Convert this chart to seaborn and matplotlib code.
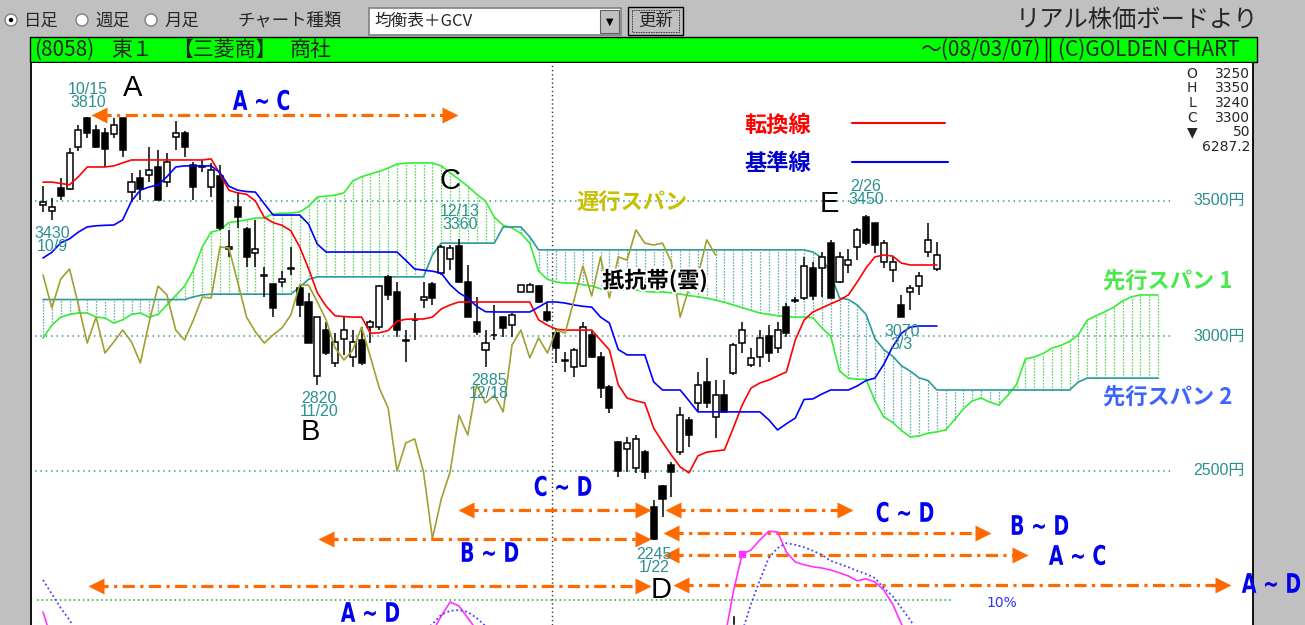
import numpy as np
import pandas as pd
import matplotlib
matplotlib.use("Agg")
import matplotlib.pyplot as plt
import seaborn as sns
import matplotlib.transforms as mtransforms
from matplotlib.patches import Rectangle, Circle, PathPatch
from matplotlib.textpath import TextPath
from matplotlib.font_manager import FontProperties
from matplotlib import font_manager
import matplotlib.patheffects as pe

# ---- daily candles 2007/10/05 .. 2008/03/07 (8058 三菱商事), 102 days ----
open_ = [3485, 3463, 3548, 3544, 3700, 3807, 3763, 3752, 3748, 3807,
         3533, 3585, 3596, 3626, 3570, 3737, 3752, 3633, 3630, 3552,
         3593, 3322, 3478, 3396, 3307, 3222, 3193, 3200, 3248, 3178,
         3126, 2852, 3022, 2900, 2989, 2922, 2985, 3033, 3033, 3219,
         3163, 2983, 3058, 3133, 3193, 3233, 3285, 3333, 3200, 3052,
         2948, 3002, 3070, 3041, 3163, 3163, 3185, 3089, 3011, 2909,
         2885, 2889, 3004, 2922, 2811, 2607, 2581, 2511, 2570, 2367,
         2444, 2522, 2570, 2689, 2752, 2830, 2700, 2781, 2863, 2974,
         2893, 2922, 3000, 2956, 3107, 3131, 3141, 3252, 3252, 3344,
         3200, 3263, 3330, 3441, 3419, 3274, 3244, 3115, 3163, 3185,
         3311, 3250]
high = [3556, 3511, 3585, 3696, 3781, 3810, 3781, 3770, 3807, 3800,
        3604, 3615, 3700, 3689, 3678, 3796, 3760, 3644, 3652, 3641,
        3633, 3393, 3533, 3404, 3430, 3256, 3193, 3241, 3330, 3189,
        3159, 3070, 3052, 3011, 3070, 3022, 3033, 3059, 3189, 3226,
        3200, 3022, 3085, 3200, 3200, 3337, 3337, 3360, 3263, 3144,
        3022, 3115, 3070, 3085, 3189, 3196, 3189, 3122, 3030, 2941,
        2956, 3052, 3022, 2941, 2819, 2611, 2626, 2633, 2578, 2393,
        2448, 2533, 2737, 2700, 2867, 2919, 2837, 2837, 2974, 3052,
        2956, 3022, 3041, 3052, 3122, 3144, 3293, 3274, 3311, 3356,
        3311, 3322, 3400, 3450, 3419, 3356, 3293, 3152, 3189, 3237,
        3419, 3350]
low = [3459, 3430, 3504, 3541, 3685, 3733, 3696, 3626, 3733, 3663,
       3496, 3504, 3570, 3504, 3552, 3689, 3663, 3504, 3607, 3515,
       3393, 3293, 3400, 3256, 3256, 3144, 3070, 3181, 3226, 3070,
       2974, 2820, 2930, 2885, 2930, 2885, 2893, 2974, 3022, 3133,
       2996, 2904, 2985, 3104, 3115, 3226, 3244, 3196, 3070, 3004,
       2885, 2985, 2996, 2996, 3163, 3163, 3122, 3052, 2900, 2867,
       2848, 2885, 2919, 2770, 2715, 2478, 2496, 2493, 2470, 2245,
       2330, 2404, 2559, 2589, 2719, 2733, 2622, 2719, 2856, 2937,
       2885, 2885, 2904, 2937, 2996, 3122, 3133, 3133, 3144, 3141,
       3196, 3233, 3281, 3337, 3307, 3252, 3200, 3070, 3096, 3152,
       3293, 3240]
close = [3496, 3478, 3519, 3678, 3763, 3752, 3700, 3693, 3781, 3689,
         3570, 3544, 3615, 3504, 3644, 3752, 3700, 3552, 3626, 3615,
         3400, 3330, 3441, 3293, 3322, 3226, 3104, 3211, 3248, 3115,
         2974, 3070, 2937, 2978, 3022, 2978, 2900, 3052, 3185, 3152,
         3022, 2985, 3060, 3144, 3141, 3330, 3326, 3200, 3070, 3015,
         2974, 3004, 3030, 3078, 3189, 3189, 3126, 3059, 2956, 2911,
         2948, 3033, 2922, 2807, 2733, 2500, 2604, 2619, 2496, 2250,
         2396, 2496, 2707, 2633, 2819, 2752, 2781, 2719, 2967, 3022,
         2919, 2993, 2937, 3022, 3011, 3133, 3259, 3148, 3293, 3141,
         3293, 3281, 3393, 3344, 3337, 3344, 3274, 3070, 3178, 3222,
         3356, 3300]

# 転換線 / 基準線 (same 102 days)
tenkan = [3570, 3570, 3565, 3560, 3590, 3626, 3626, 3626, 3630, 3641,
          3652, 3652, 3652, 3652, 3652, 3652, 3652, 3652, 3652, 3656,
          3600, 3540, 3530, 3525, 3500, 3440, 3420, 3410, 3390, 3330,
          3250, 3160, 3110, 3075, 3072, 3070, 3070, 3010, 3012, 3020,
          3055, 3062, 3063, 3063, 3070, 3100, 3115, 3126, 3126, 3126,
          3126, 3126, 3126, 3126, 3126, 3126, 3060, 3040, 3025, 3022,
          3022, 3022, 3022, 2985, 2948, 2819, 2770, 2760, 2752, 2659,
          2607, 2559, 2515, 2493, 2556, 2570, 2574, 2578, 2659, 2744,
          2807, 2826, 2837, 2852, 2867, 2985, 3059, 3089, 3104, 3119,
          3133, 3152, 3200, 3252, 3293, 3300, 3296, 3270, 3263, 3263,
          3263, 3263]
kijun = [3289, 3310, 3345, 3360, 3385, 3404, 3408, 3410, 3411, 3430,
         3500, 3540, 3552, 3559, 3590, 3626, 3630, 3630, 3630, 3630,
         3605, 3555, 3540, 3535, 3533, 3490, 3448, 3448, 3448, 3448,
         3415, 3340, 3311, 3311, 3311, 3311, 3311, 3311, 3311, 3311,
         3311, 3280, 3248, 3244, 3240, 3233, 3190, 3160, 3140, 3110,
         3090, 3089, 3089, 3089, 3089, 3089, 3107, 3126, 3126, 3122,
         3115, 3110, 3107, 3070, 3048, 2950, 2930, 2930, 2930, 2830,
         2800, 2800, 2800, 2760, 2719, 2719, 2719, 2719, 2719, 2719,
         2719, 2719, 2690, 2652, 2675, 2696, 2765, 2767, 2785, 2800,
         2800, 2800, 2815, 2835, 2844, 2895, 2960, 3010, 3033, 3037,
         3037, 3037]

# 先行スパン 1 / 2, already placed 25 days ahead (127 positions)
senkou_a = [2993, 3040, 3070, 3080, 3085, 3085, 3070, 3067, 3048, 3060,
            3080, 3085, 3070, 3080, 3115, 3150, 3185, 3244, 3330, 3385,
            3393, 3420, 3425, 3430, 3437, 3437, 3452, 3455, 3455, 3459,
            3480, 3515, 3518, 3522, 3530, 3574, 3590, 3600, 3610, 3622,
            3637, 3640, 3641, 3641, 3641, 3630, 3605, 3580, 3555, 3525,
            3500, 3440, 3410, 3400, 3380, 3344, 3240, 3210, 3200, 3196,
            3196, 3190, 3185, 3175, 3170, 3170, 3170, 3170, 3165, 3163,
            3163, 3160, 3155, 3150, 3145, 3140, 3133, 3125, 3115, 3105,
            3095, 3085, 3080, 3075, 3072, 3070, 3070, 3068, 3030, 3000,
            2870, 2844, 2840, 2840, 2760, 2700, 2680, 2650, 2626, 2630,
            2640, 2645, 2652, 2690, 2730, 2760, 2770, 2755, 2744, 2780,
            2820, 2915, 2922, 2935, 2955, 2965, 2980, 3005, 3059, 3075,
            3090, 3107, 3130, 3145, 3152, 3152, 3152]
senkou_b = [3135, 3135, 3135, 3135, 3135, 3135, 3135, 3135, 3135, 3135,
            3135, 3135, 3135, 3135, 3135, 3135, 3135, 3145, 3152, 3155,
            3155, 3155, 3155, 3155, 3155, 3155, 3155, 3155, 3155, 3181,
            3210, 3219, 3219, 3219, 3219, 3219, 3219, 3219, 3219, 3219,
            3219, 3219, 3219, 3219, 3300, 3344, 3344, 3344, 3344, 3344,
            3344, 3344, 3404, 3404, 3404, 3367, 3319, 3319, 3319, 3319,
            3319, 3319, 3319, 3319, 3319, 3319, 3319, 3319, 3319, 3319,
            3319, 3319, 3319, 3319, 3319, 3319, 3319, 3319, 3319, 3319,
            3319, 3319, 3319, 3319, 3319, 3319, 3319, 3311, 3290, 3230,
            3141, 3135, 3115, 3080, 2990, 2950, 2925, 2890, 2870, 2845,
            2835, 2800, 2800, 2800, 2800, 2800, 2800, 2800, 2800, 2800,
            2800, 2800, 2800, 2800, 2800, 2800, 2800, 2830, 2844, 2844,
            2844, 2844, 2844, 2844, 2844, 2844, 2844]
lag = 25  # 遅行スパン shift

# GCV panel (only the parts that rise into view)
gcv_idx = [0, 1, 43, 44, 45, 46, 47, 48, 49, 50,
           76, 77, 78, 79, 80, 81, 82, 83, 84, 85, 86, 87, 88, 89, 90, 91,
           92, 93, 94, 95, 96, 97, 98]
gcv_val = [7, 0, -2, 2, 6, 9.5, 8.5, 5.5, 2.5, -2,
           -10, 0, 12, 21.5, 22.5, 25, 27.2, 27, 22, 19.5, 18.8, 18.3, 18,
           17.5, 16.8, 16, 14.8, 15.3, 14.5, 12.5, 9, 4, -1]
gcv_ma_idx = [0, 1, 2, 3, 4, 5, 42, 43, 44, 45, 46, 47, 48, 49, 50, 51,
              79, 80, 81, 82, 83, 84, 85, 86, 87, 88, 89, 90, 91, 92, 93,
              94, 95, 96, 97, 98, 99]
gcv_ma_val = [15, 11.5, 8, 5, 1, -3, -2, 2, 4, 6.3, 7.3, 7.5, 7, 5.5,
              3.5, 0, 2, 9, 15, 20.5, 23, 24.2, 23.8, 23.2, 22.3, 21.3,
              19.8, 19, 18.2, 17.3, 16.5, 15.5, 13, 11, 8, 5, 1]
gcv_mark_idx = 79
gcv_bar_idx, gcv_bar_val = 78, 6.3

# turning points used for the time-theory arrows
pts = {'A': 5, 'B': 31, 'C': 47, 'D': 69, 'E': 93}
peak_labels = [(5, '10/15', 3810), (1, '10/9', 3430), (31, '11/20', 2820),
               (47, '12/13', 3360), (50, '12/18', 2885), (69, '1/22', 2245),
               (93, '2/26', 3450), (97, '3/3', 3070)]
ohlc_board = [('O', '3250'), ('H', '3350'), ('L', '3240'), ('C', '3300'),
              ('▼', '50')]
volume_txt = '6287.2'

# ---------------- layout ----------------
W, H = 1305, 625
X0, DX = 43.0, 8.85        # pixel x of day 0, pixels per day
Y_REF, PPY = 201.0, 0.27   # pixel y of 3500 yen, pixels per yen

def price_at(ypx):
    return 3500 - (ypx - Y_REF) / PPY

def day_at(xpx):
    return (xpx - X0) / DX

sns.set_theme(style='white')
plt.rcParams['font.family'] = ['DejaVu Sans', 'Noto Sans CJK JP']
names = {f.name for f in font_manager.fontManager.ttflist}
LAB = 'Liberation Sans' if 'Liberation Sans' in names else 'DejaVu Sans'
JP = ['Noto Sans CJK JP', 'DejaVu Sans']

fig = plt.figure(figsize=(W / 100, H / 100), dpi=100)
fig.patch.set_facecolor('#c0c0c0')

ui = fig.add_axes([0, 0, 1, 1], zorder=0)
ui.set_xlim(0, W); ui.set_ylim(H, 0); ui.axis('off')

rect = [31 / W, 0, (1253 - 31) / W, (H - 63) / H]
ax = fig.add_axes(rect, zorder=1)
ax.set_xlim(day_at(31), day_at(1253))
ax.set_ylim(price_at(H), price_at(63))
ax.set_facecolor('white')
ax.set_xticks([]); ax.set_yticks([])
for s in ('top', 'bottom'):
    ax.spines[s].set_visible(False)
for s in ('left', 'right'):
    ax.spines[s].set_color('black'); ax.spines[s].set_linewidth(1.3)

# ---- toolbar ----
ui.add_patch(Rectangle((369, 8), 252, 27, facecolor='white', edgecolor='#808080', lw=1.2))
ui.add_patch(Rectangle((600, 10), 19, 23, facecolor='#c0c0c0', edgecolor='#606060', lw=0.8))
ui.text(609.5, 22, '▼', fontsize=7, ha='center', va='center', color='black')
ui.text(374, 21, '均衡表＋GCV', fontsize=12, family=JP, va='center')
ui.add_patch(Rectangle((628, 7), 55, 28, facecolor='#c0c0c0', edgecolor='black', lw=1))
ui.add_patch(Rectangle((632, 10), 47, 22, facecolor='none', edgecolor='black', lw=0.6, ls=(0, (1, 1))))
ui.text(655.5, 21, '更新', fontsize=12.5, family=JP, ha='center', va='center')
for cx, lab, on in [(11, '日足', True), (82, '週足', False), (151, '月足', False)]:
    ui.add_patch(Circle((cx, 20), 6, facecolor='white', edgecolor='#808080', lw=1))
    if on:
        ui.add_patch(Circle((cx, 20), 2.2, facecolor='black', edgecolor='none'))
    ui.text(cx + 13, 20.5, lab, fontsize=12.5, family=JP, va='center')
ui.text(237, 20.5, 'チャート種類', fontsize=12.5, family=JP, va='center')
ui.text(1258, 20, 'リアル株価ボードより', fontsize=17.5, family=JP, ha='right', va='center')

# ---- green header ----
ui.add_patch(Rectangle((30, 37), 1227, 25, facecolor='#00ff00', edgecolor='black', lw=1))
for x_l, s in [(34, '(8058)'), (111, '東１'), (172, '【三菱商】'), (290, '商社')]:
    ui.text(x_l, 50, s, fontsize=15, family=JP, va='center')
ui.text(1041, 50, '～(08/03/07)', fontsize=15, family=JP, va='center', ha='right')
ui.plot([1046, 1046], [37, 62], color='black', lw=1)
ui.plot([1050, 1050], [37, 62], color='black', lw=1)
ui.text(1058, 50, '(C)GOLDEN CHART', fontsize=15, family=JP, va='center')

# ---- grid ----
grid_teal = '#3a9a9a'
for p in (3500, 3000, 2500):
    ax.plot([day_at(35), day_at(1170)], [p, p], color=grid_teal, lw=1.1, ls=(0, (1, 2.5)), zorder=1)
ax.axvline(57.5, color='#333333', lw=1, ls=(0, (1, 2)), zorder=1)

# ---- cloud ----
cloud = pd.DataFrame({'i': np.arange(len(senkou_a)), 'a': senkou_a, 'b': senkou_b})
up = cloud['a'] >= cloud['b']
lo = cloud[['a', 'b']].min(axis=1)
hi = cloud[['a', 'b']].max(axis=1)
ax.vlines(cloud['i'][up], lo[up], hi[up], colors='#22cc22', lw=0.9, ls=(0, (1, 1.4)), zorder=2)
ax.vlines(cloud['i'][~up], lo[~up], hi[~up], colors='#2a9a9a', lw=0.9, ls=(0, (1, 1.4)), zorder=2)
sns.lineplot(data=cloud, x='i', y='a', color='#33ee33', lw=1.2, ax=ax, zorder=3, estimator=None)
sns.lineplot(data=cloud, x='i', y='b', color='#2a9a9a', lw=1.2, ax=ax, zorder=3, estimator=None)

# ---- candles ----
df = pd.DataFrame({'i': np.arange(len(close)), 'o': open_, 'h': high, 'l': low, 'c': close,
                   'tenkan': tenkan, 'kijun': kijun})
df['bot'] = df[['o', 'c']].min(axis=1)
df['top'] = df[['o', 'c']].max(axis=1)
df['body'] = (df['top'] - df['bot']).clip(lower=3)
white = df['c'] >= df['o']
ax.vlines(df['i'], df['l'], df['h'], color='black', lw=1.1, zorder=5)
ax.bar(df['i'][white], df['body'][white], bottom=df['bot'][white], width=0.68,
       facecolor='white', edgecolor='black', lw=1.1, zorder=6)
ax.bar(df['i'][~white], df['body'][~white], bottom=df['bot'][~white], width=0.68,
       facecolor='black', edgecolor='black', lw=1.1, zorder=6)

# ---- 転換線 / 基準線 / 遅行スパン ----
sns.lineplot(data=df, x='i', y='tenkan', color='#ff0000', lw=1.2, ax=ax, zorder=7, estimator=None)
sns.lineplot(data=df, x='i', y='kijun', color='#0000ff', lw=1.2, ax=ax, zorder=7, estimator=None)
chikou = pd.DataFrame({'i': df['i'][:-lag].values, 'v': df['c'][lag:].values})
sns.lineplot(data=chikou, x='i', y='v', color='#a0a030', lw=1.2, ax=ax, zorder=7, estimator=None)
ax.set_xlabel(''); ax.set_ylabel('')

# ---- GCV panel ----
gx = fig.add_axes(rect, zorder=2)
gx.set_xlim(ax.get_xlim())
gx.set_ylim(10 - (H - 600) / 4, 10 + (600 - 63) / 4)
gx.axis('off')
gx.plot([day_at(37), day_at(953)], [10, 10], color='#22aa22', lw=1.1, ls=(0, (1, 2)))
gcv = pd.DataFrame({'i': gcv_idx, 'v': gcv_val})
gma = pd.DataFrame({'i': gcv_ma_idx, 'v': gcv_ma_val})
sns.lineplot(data=gcv, x='i', y='v', color='#ff33ff', lw=1.2, ax=gx, estimator=None, sort=False)
sns.lineplot(data=gma, x='i', y='v', color='#4040ff', lw=1.3, ls=(0, (1, 1.5)), ax=gx,
             estimator=None, sort=False)
mv = gcv.loc[gcv['i'] == gcv_mark_idx, 'v'].iloc[0]
gx.plot([gcv_mark_idx], [mv], marker='s', ms=5, color='#ff33ff', ls='none')
gx.bar([gcv_bar_idx], [gcv_bar_val - gx.get_ylim()[0]], bottom=gx.get_ylim()[0], width=0.4, color='black')
gx.set_xlabel(''); gx.set_ylabel('')

# ---- overlay in pixel coordinates ----
top = fig.add_axes([0, 0, 1, 1], zorder=3)
top.set_xlim(0, W); top.set_ylim(H, 0); top.axis('off')

# time-theory arrows (tips in day units)
A, B, C, D = pts['A'], pts['B'], pts['C'], pts['D']
orange = '#ff6a00'
arrows = [  # (left tip, right tip, y px)
    (A + 0.5, C - 0.2, 115),
    (C - 0.1, D - 0.4, 510),
    (B + 0.1, D - 0.4, 539),
    (A + 0.1, D - 0.4, 586),
    (D + 1.3, D + (D - C) + 0.5, 510),
    (D + 1.1, D + (D - B) + 0.1, 533),
    (D + 1.1, D + (C - A) + 0.3, 555),
    (D + 2.2, D + (D - A) + 1.2, 585),
]
hl = 7.6 / DX
for x_l, x_r, ypx in arrows:
    yp = price_at(ypx)
    ax.plot([x_l + hl, x_r - hl], [yp, yp], color=orange, lw=2.3,
            ls=(0, (3.8, 1.7, 1.0, 1.7)), zorder=8, solid_capstyle='butt')
    ax.plot([x_l + hl], [yp], marker='<', ms=11, color=orange, mec='none', zorder=8)
    ax.plot([x_r - hl], [yp], marker='>', ms=11, color=orange, mec='none', zorder=8)


def narrow_text(x, y, s, color, size=27, sx=0.70):
    # condensed bold label, drawn as a squeezed text path
    tp = TextPath((0, 0), s, size=size, prop=FontProperties(family='DejaVu Sans', weight='bold'))
    e = tp.get_extents()
    tr = (mtransforms.Affine2D().translate(-(e.x0 + e.x1) / 2, -(e.y0 + e.y1) / 2)
          .scale(sx, -1).translate(x, y))
    top.add_patch(PathPatch(tr.transform_path(tp), facecolor=color, edgecolor='none'))


blue = '#0000ee'
for s, x, y in [('A ~ C', 261, 100), ('C ~ D', 563, 486), ('B ~ D', 490, 552),
                ('C ~ D', 905, 512), ('B ~ D', 1040, 525), ('A ~ C', 1077, 555),
                ('A ~ D', 1271, 583), ('A ~ D', 370, 612)]:
    narrow_text(x, y, s, blue)

for s, x, y in [('A', 133, 88), ('B', 310, 432), ('C', 450, 181), ('D', 661, 590), ('E', 829, 204)]:
    top.text(x, y, s, color='black', fontsize=21, family=LAB, ha='center', va='center')

teal_txt = '#2a9090'
label_pos = {5: (88, 96, True), 1: (52, 240, False), 31: (319, 405, False),
             47: (460, 218, True), 50: (489, 387, False), 69: (654, 561, False),
             93: (866, 193, True), 97: (902, 338, False)}
for i, d, p in peak_labels:
    x, y, date_first = label_pos[i]
    s = f'{d}\n{p}' if date_first else f'{p}\n{d}'
    top.text(x, y, s, color=teal_txt, fontsize=11.5, family=LAB, ha='center', va='center',
             linespacing=0.9)

for p, y in [(3500, 201), (3000, 337), (2500, 471)]:
    top.text(1245, y, f'{p}円', color=teal_txt, fontsize=11.5, family=[LAB, 'Noto Sans CJK JP'],
             ha='right', va='center')

for k, (a, b) in enumerate(ohlc_board):
    y = 74 + k * 14.5
    top.text(1192, y, a, fontsize=10, family='DejaVu Sans', ha='center', va='center')
    top.text(1250, y, b, fontsize=10, family='DejaVu Sans', ha='right', va='center')
top.text(1250, 147, volume_txt, fontsize=10, family='DejaVu Sans', ha='right', va='center')

# legend-like captions
top.text(778, 125, '転換線', color='#ff0000', fontsize=16, family=JP, weight='bold', ha='center', va='center')
top.plot([852, 945], [123, 123], color='#ff0000', lw=1.5)
top.text(778, 163, '基準線', color='#0000cc', fontsize=16, family=JP, weight='bold', ha='center', va='center')
top.plot([852, 948], [162, 162], color='#0000ff', lw=1.5)
top.text(632, 203, '遅行スパン', color='#c6c000', fontsize=16, family=JP, weight='bold', ha='center', va='center')
top.text(655, 281, '抵抗帯(雲)', color='black', fontsize=16, family=JP, weight='bold', ha='center',
         va='center', path_effects=[pe.withStroke(linewidth=3, foreground='white')])
top.text(1168, 281, '先行スパン 1', color='#4be84b', fontsize=16, family=JP, weight='bold', ha='center', va='center')
top.text(1168, 397, '先行スパン 2', color='#3c64ff', fontsize=16, family=JP, weight='bold', ha='center', va='center')
top.text(1002, 603, '10%', color='#3333ff', fontsize=10, family='DejaVu Sans', ha='center', va='center')

fig.savefig('out.png', dpi=100, facecolor=fig.get_facecolor())
